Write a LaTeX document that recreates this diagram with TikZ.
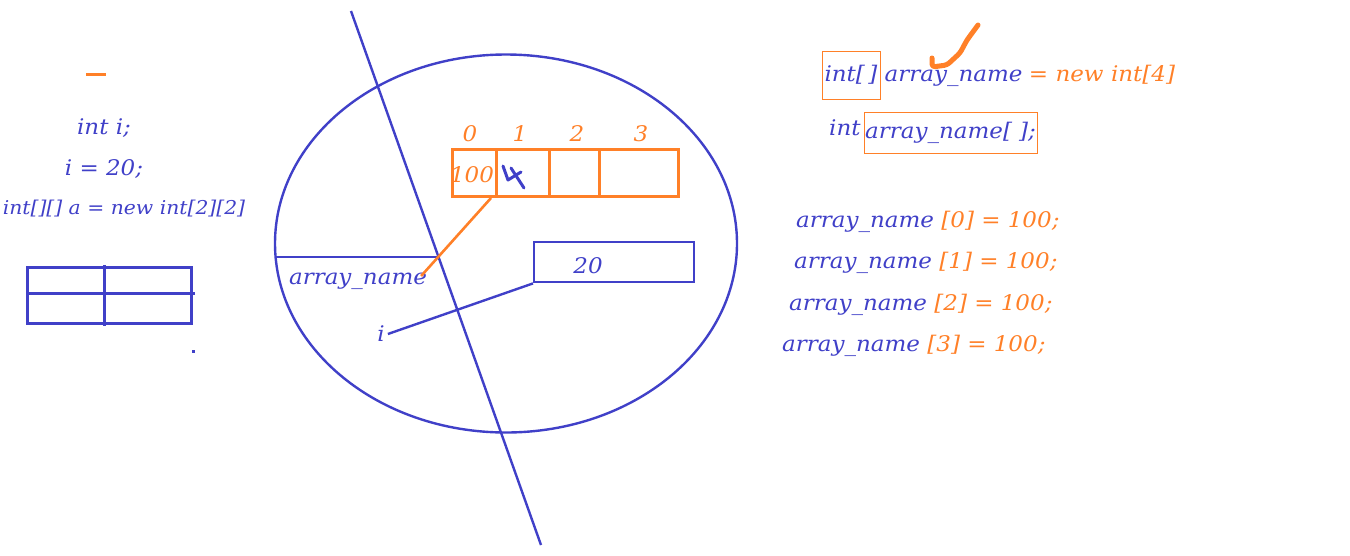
\documentclass[tikz,border=0pt]{standalone}
\usepackage{fontspec}
\setmainfont[FakeStretch=1.07]{DejaVu Serif}
\usetikzlibrary{positioning}
\definecolor{penblue}{RGB}{64,64,200}
\definecolor{penorange}{RGB}{255,128,40}

\begin{document}
\begin{tikzpicture}[x=1pt, y=-1pt,
  code/.style={font=\fontsize{21.5}{25}\selectfont\itshape, inner sep=0pt, text=penblue},
  hi/.style={code, text=penorange},
  cellbox/.style={draw=penorange, line width=3pt, minimum height=47pt, inner sep=0pt, anchor=north west},
  framebox/.style={draw=penorange, line width=1pt},
  pen/.style={draw=penblue, line width=2.4pt},
  gridpen/.style={draw=penblue, line width=3pt}
]
\useasboundingbox (0,0) rectangle (1350,555);

% left column
\draw[penorange, line width=3pt] (86,74) -- (106,74);
\node[code] (inti)  at (104,128) {int i;};
\node[code] (iset)  at (104,169) {i = 20;};
\node[code, font=\fontsize{19}{23}\selectfont\itshape] (arr2d) at (124,209) {int[][] a = new int[2][2]};
\draw[gridpen] (27,267) rectangle (191,323);
\draw[gridpen] (104,265) -- (104,326);
\draw[gridpen] (27,293) -- (195,293);
\fill[penblue] (191.5,349.5) rectangle (194.5,352.5);

% memory
\draw[pen] (506,243.5) ellipse [x radius=231, y radius=189];
\coordinate (top) at (351,11);
\coordinate (bot) at (541,545);
\draw[pen] (top) -- (bot);
\coordinate (stackl) at (275,257);
\coordinate (stackr) at (440,257);
\draw[pen] (stackl) -- (stackr);
\node[code] (arrname) at (358,281) {array\_name};
\node[code] (ivar) at (381,334) {i};

% the int[4] on the heap
\node[cellbox, minimum width=44pt] (c0) at (451,148) {};
\node[cellbox, minimum width=53pt] (c1) at (495,148) {};
\node[cellbox, minimum width=50pt] (c2) at (548,148) {};
\node[cellbox, minimum width=79pt] (c3) at (598,148) {};
\node[hi] at (470,134) {0};
\node[hi] at (520,134) {1};
\node[hi] at (577,134) {2};
\node[hi] at (641,134) {3};
\node[hi] (v0) at (472,175) {100};
\draw[penblue, line width=3pt, line cap=round, line join=round]
  (503,166) -- (508,180) -- (521,172) (511,168) -- (524,188);
\draw[penorange, line width=2.6pt] ([xshift=-7pt]c0.south east) -- ([xshift=-6pt, yshift=5pt]arrname.east);

% the int 20
\node[pen, minimum width=160pt, minimum height=40pt, inner sep=0pt, anchor=north west] (box20) at (533,241) {};
\node[code] (val20) at (588,266) {20};
\draw[pen] ([xshift=3pt]ivar.east) -- (box20.south west);

% declarations
\node[code, framebox, minimum width=58pt, minimum height=48pt, inner sep=0pt] (decl1) at (851,75) {int[\,]};
\node[code, anchor=base west] (decl1name) at ([xshift=4pt]decl1.base east) {array\_name};
\node[hi, anchor=base west] (decl1new) at ([xshift=6pt]decl1name.base east) {= new int[4]};
\draw[penorange, line width=5pt, line cap=round, line join=round, rounded corners=3pt]
  (932,58) -- (932,67) -- (947,65) -- (960,53) -- (967,40) -- (978,25);
\node[code, anchor=west] (decl2int) at (829,128) {int};
\node[code, framebox, minimum width=173pt, minimum height=41pt, inner sep=0pt] (decl2) at (950.5,132.5) {array\_name[\,\,];};

% assignments
\node[code, anchor=west] (as0) at (796,222) {array\_name \textcolor{penorange}{[0] = 100;}};
\node[code, anchor=west] (as1) at (794,263) {array\_name \textcolor{penorange}{[1] = 100;}};
\node[code, anchor=west] (as2) at (789,305) {array\_name \textcolor{penorange}{[2] = 100;}};
\node[code, anchor=west] (as3) at (782,346) {array\_name \textcolor{penorange}{[3] = 100;}};
\end{tikzpicture}
\end{document}
